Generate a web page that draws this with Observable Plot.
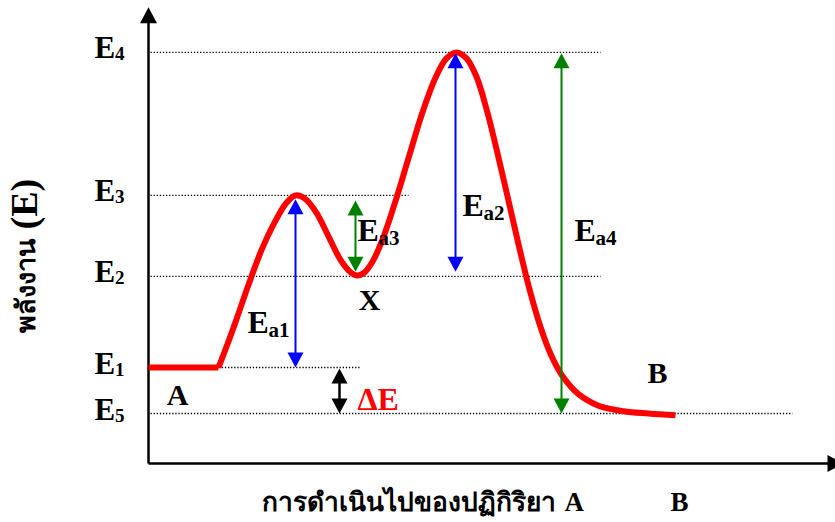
<!DOCTYPE html>
<html><head><meta charset="utf-8">
<script src="https://cdn.jsdelivr.net/npm/d3@7"></script>
<script src="https://cdn.jsdelivr.net/npm/@observablehq/plot@0.6"></script>
<style>html,body{margin:0;padding:0;background:#fff} #chart svg{display:block}</style>
</head><body><div id="chart"></div>
<script>
// ---- data ----
// energy levels
const levelSubs   = ["4", "3", "2", "1", "5"];
const levelEnergy = [7.85, 4.74, 2.98, 1.0, 0.0];
const levelGuideEnd = [45.2, 26.0, 45.2, 21.2, 64.4]; // reaction progress where each dotted guide stops

// reaction-path curve (progress, energy): flat reactant plateau, then the smooth path
const plateauProgress = [0, 7];
const plateauEnergy   = [1.0, 1.0];
const curveProgress = [7, 7.8, 8.8, 10.0, 11.3, 12.6, 13.8, 14.7, 15.7, 16.8, 18.0, 19.2, 20.2, 20.8, 21.5, 22.4, 23.4, 24.6, 26.0, 27.4, 28.7, 29.8, 30.8, 31.8, 32.8, 33.8, 34.8, 35.9, 37.0, 38.1, 39.2, 40.3, 41.5, 43.0, 45.0, 47.5, 50.0, 52.7];
const curveEnergy   = [1.0, 1.45, 2.05, 2.80, 3.55, 4.15, 4.58, 4.74, 4.66, 4.36, 3.85, 3.34, 3.07, 3.0, 3.05, 3.30, 3.78, 4.55, 5.55, 6.55, 7.30, 7.72, 7.85, 7.72, 7.32, 6.62, 5.75, 4.72, 3.68, 2.70, 1.88, 1.25, 0.78, 0.42, 0.17, 0.05, 0.0, -0.04];

// double-headed arrows
const arrowNames    = ["Ea1", "Ea3", "Ea2", "Ea4", "dE"];
const arrowProgress = [14.7, 20.7, 30.7, 41.3, 19.1];
const arrowTop      = [4.66, 4.63, 7.83, 7.83, 0.98];
const arrowBottom   = [1.0, 3.08, 3.08, 0.0, 0.0];

// arrow labels
const arrowLabelMain = ["E", "E", "E", "E", "ΔE"];
const arrowLabelSub  = ["a1", "a3", "a2", "a4", ""];
const arrowLabelProgress = [9.9, 20.9, 31.4, 42.6, 20.9];
const arrowLabelEnergy   = [1.74, 3.76, 4.30, 3.76, 0.07];

// point labels
const pointNames    = ["A", "B", "X"];
const pointProgress = [2.9, 50.9, 22.1];
const pointEnergy   = [0.39, 0.87, 2.46];

// axis texts
const xTitle = "การดำเนินไปของปฏิกิริยา";
const xTitleA = "A";
const xTitleB = "B";
const yTitleThai = "พลังงาน";
const yTitleSym = "(E)";

// axis extents (progress / energy units)
const axisBaseEnergy = -1.087;
const axisTopEnergy = 8.83;
const axisEndProgress = 69.5;

// ---- build tables ----
const levels = levelSubs.map((s, i) => ({sub: s, e: levelEnergy[i], end: levelGuideEnd[i]}));
const plateau = plateauProgress.map((p, i) => ({p, e: plateauEnergy[i]}));
const curve = curveProgress.map((p, i) => ({p, e: curveEnergy[i]}));
const arrowColor = {Ea1: "#0000ff", Ea2: "#0000ff", Ea3: "#008000", Ea4: "#008000", dE: "#000000"};
const arrows = arrowNames.map((n, i) => ({name: n, p: arrowProgress[i], top: arrowTop[i], bottom: arrowBottom[i], color: arrowColor[n]}));
const arrowLabels = arrowLabelMain.map((m, i) => ({main: m, sub: arrowLabelSub[i], p: arrowLabelProgress[i], e: arrowLabelEnergy[i], color: m === "ΔE" ? "#ff0000" : "#000000"}));
const points = pointNames.map((n, i) => ({name: n, p: pointProgress[i], e: pointEnergy[i]}));

// custom filled arrowheads with the tip at the anchor point
const triUp = {draw(ctx) { ctx.moveTo(0, 0); ctx.lineTo(8, 15); ctx.lineTo(-8, 15); ctx.closePath(); }};
const triDown = {draw(ctx) { ctx.moveTo(0, 0); ctx.lineTo(8, -15); ctx.lineTo(-8, -15); ctx.closePath(); }};
const axisUp = {draw(ctx) { ctx.moveTo(0, 0); ctx.lineTo(8.5, 16); ctx.lineTo(-8.5, 16); ctx.closePath(); }};
const axisRight = {draw(ctx) { ctx.moveTo(0, 0); ctx.lineTo(-16, -8.5); ctx.lineTo(-16, 8.5); ctx.closePath(); }};

const serif = "'Liberation Serif', 'Times New Roman', serif";

const chart = Plot.plot({
  width: 835,
  height: 522,
  margin: 0,
  style: {background: "#fff", fontFamily: serif},
  x: {domain: [-14.8, 68.7], axis: null},
  y: {domain: [(413 - 522) / 46, 413 / 46], axis: null},
  color: {type: "identity"},
  marks: [
    // dotted guides
    Plot.link(levels, {x1: 0.2, x2: "end", y1: "e", y2: "e", stroke: "#000", strokeWidth: 1.3, strokeDasharray: "1.3,1.8"}),
    // axes
    Plot.link([{}], {x1: 0, x2: 0, y1: axisBaseEnergy, y2: axisTopEnergy - 0.3, stroke: "#000", strokeWidth: 2.5}),
    Plot.link([{}], {x1: 0, x2: axisEndProgress - 1.5, y1: axisBaseEnergy, y2: axisBaseEnergy, stroke: "#000", strokeWidth: 2.5}),
    Plot.dot([{}], {x: 0, y: axisTopEnergy, symbol: axisUp, fill: "#000", stroke: "none"}),
    Plot.dot([{}], {x: axisEndProgress, y: axisBaseEnergy, symbol: axisRight, fill: "#000", stroke: "none"}),
    // reaction curve
    Plot.line(plateau, {x: "p", y: "e", stroke: "#ff0000", strokeWidth: 6, strokeLinecap: "butt", strokeLinejoin: "miter"}),
    Plot.line(curve, {x: "p", y: "e", stroke: "#ff0000", strokeWidth: 6, curve: "catmull-rom", strokeLinecap: "butt"}),
    // arrows
    Plot.ruleX(arrows, {x: "p", y1: "top", y2: "bottom", stroke: "color", strokeWidth: d => d.name === "dE" ? 2.5 : 2, insetTop: 8, insetBottom: 8}),
    Plot.dot(arrows, {x: "p", y: "top", symbol: triUp, fill: "color", stroke: "none"}),
    Plot.dot(arrows, {x: "p", y: "bottom", symbol: triDown, fill: "color", stroke: "none"}),
    // level labels
    Plot.text(levels, {x: -5.4, y: "e", text: () => "E", dy: 6, lineAnchor: "bottom", textAnchor: "start", fontSize: 31, fontWeight: "bold", fill: "#000"}),
    Plot.text(levels, {x: -5.4, y: "e", text: "sub", dx: 20.5, dy: 8, lineAnchor: "bottom", textAnchor: "start", fontSize: 19, fontWeight: "bold", fill: "#000"}),
    // arrow labels
    Plot.text(arrowLabels, {x: "p", y: "e", text: "main", lineAnchor: "bottom", textAnchor: "start", fontSize: 32, fontWeight: "bold", fill: "color"}),
    Plot.text(arrowLabels, {x: "p", y: "e", text: "sub", dx: 21, dy: 4, lineAnchor: "bottom", textAnchor: "start", fontSize: 21, fontWeight: "bold", fill: "color"}),
    // point labels
    Plot.text(points, {x: "p", y: "e", text: "name", fontSize: 30, fontWeight: "bold", fill: "#000"}),
    // axis titles
    Plot.text([xTitle], {x: 11.3, y: -2.11, text: d => d, lineAnchor: "bottom", textAnchor: "start", fontSize: 26.3, fontWeight: "bold", fill: "#000"}),
    Plot.text([xTitleA], {x: 41.6, y: -2.11, text: d => d, lineAnchor: "bottom", textAnchor: "start", fontSize: 27, fontWeight: "bold", fill: "#000"}),
    Plot.text([xTitleB], {x: 52.2, y: -2.11, text: d => d, lineAnchor: "bottom", textAnchor: "start", fontSize: 27, fontWeight: "bold", fill: "#000"}),
    Plot.text([yTitleThai], {x: -12.2, y: 2.78, text: d => d, rotate: -90, fontSize: 27, fontWeight: "bold", fill: "#000"}),
    Plot.text([yTitleSym], {x: -12.4, y: 4.55, text: d => d, rotate: -90, fontSize: 38, fontWeight: "bold", fill: "#000"})
  ]
});
document.getElementById("chart").appendChild(chart);
</script>
</body></html>
